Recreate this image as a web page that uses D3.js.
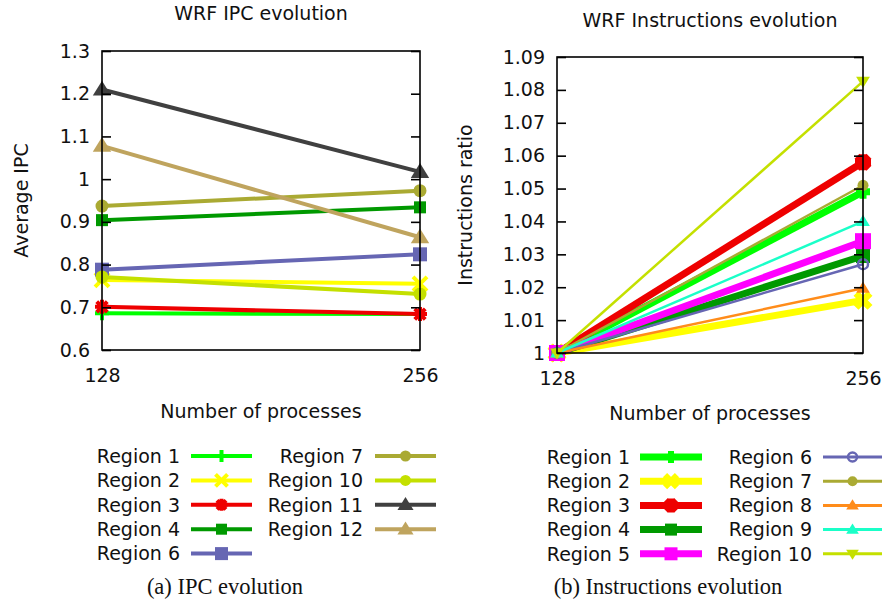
<!DOCTYPE html>
<html>
<head>
<meta charset="utf-8">
<script src="https://cdn.jsdelivr.net/npm/d3@7"></script>
<style>
  body { margin: 0; background: #fff; }
  svg { display: block; }
  text { font-family: "DejaVu Sans", sans-serif; fill: #111; }
  .caption { font-family: "Liberation Serif", "Times New Roman", serif; }
</style>
</head>
<body>
<svg id="chart" width="885" height="600"></svg>
<script>
// ---- data ----
const procs = [128, 256];

// IPC panel
const ipcRegions = ["Region 1", "Region 2", "Region 3", "Region 4", "Region 6",
                    "Region 7", "Region 10", "Region 11", "Region 12"];
const ipcValues = [
  [0.686, 0.684],
  [0.764, 0.755],
  [0.701, 0.684],
  [0.904, 0.934],
  [0.788, 0.824],
  [0.937, 0.973],
  [0.771, 0.731],
  [1.210, 1.017],
  [1.078, 0.864]
];
const ipcColors = ["#00ff00", "#ffff00", "#ee0000", "#009900", "#6666b3",
                   "#aaaa33", "#c4e000", "#404040", "#bfa45e"];
const ipcMarkers = ["plus", "cross", "star", "square", "square",
                    "circle", "circle", "tri", "tri"];
const ipcTicks = [0.6, 0.7, 0.8, 0.9, 1.0, 1.1, 1.2, 1.3];

// Instructions panel
const insRegions = ["Region 1", "Region 2", "Region 3", "Region 4", "Region 5",
                    "Region 6", "Region 7", "Region 8", "Region 9", "Region 10"];
const insValues = [
  [1.0, 1.049],
  [1.0, 1.016],
  [1.0, 1.058],
  [1.0, 1.0295],
  [1.0, 1.034],
  [1.0, 1.027],
  [1.0, 1.051],
  [1.0, 1.0197],
  [1.0, 1.040],
  [1.0, 1.0826]
];
const insColors = ["#00ff00", "#ffff00", "#ee0000", "#009900", "#ff00ff",
                   "#6666b3", "#aaaa33", "#ff8c1a", "#1affc8", "#c4e000"];
const insMarkers = ["plus", "cross", "star", "square", "square",
                    "ocircle", "circle", "tri", "tri", "dtri"];
const insWidths = [7, 7, 7, 7, 7, 2.5, 2.5, 2.5, 2.5, 2.5];
const insTicks = [1.0, 1.01, 1.02, 1.03, 1.04, 1.05, 1.06, 1.07, 1.08, 1.09];

// ---- helpers ----
const svg = d3.select("#chart");
const fmt = d3.format("~g");
const FS = 19;

function marker(g, type, x, y, s, color, sw) {
  const m = g.append("g").attr("transform", `translate(${x},${y})`);
  if (type === "plus") {
    m.append("path").attr("d", `M${-s},0H${s}M0,${-s}V${s}`)
      .attr("stroke", color).attr("stroke-width", sw).attr("fill", "none");
  } else if (type === "cross") {
    m.append("path").attr("d", `M${-s},${-s}L${s},${s}M${-s},${s}L${s},${-s}`)
      .attr("stroke", color).attr("stroke-width", sw).attr("fill", "none");
  } else if (type === "star") {
    m.append("path").attr("d", `M${-s},0H${s}M0,${-s}V${s}M${-s*0.75},${-s*0.75}L${s*0.75},${s*0.75}M${-s*0.75},${s*0.75}L${s*0.75},${-s*0.75}`)
      .attr("stroke", color).attr("stroke-width", sw).attr("fill", "none");
  } else if (type === "square") {
    m.append("rect").attr("x", -s).attr("y", -s).attr("width", 2 * s).attr("height", 2 * s)
      .attr("fill", color);
  } else if (type === "circle") {
    m.append("circle").attr("r", s).attr("fill", color);
  } else if (type === "ocircle") {
    m.append("circle").attr("r", s).attr("fill", "none")
      .attr("stroke", color).attr("stroke-width", 2.5);
  } else if (type === "tri") {
    m.append("path").attr("d", `M0,${-s * 1.1}L${s * 1.15},${s * 0.75}L${-s * 1.15},${s * 0.75}Z`)
      .attr("fill", color);
  } else if (type === "dtri") {
    m.append("path").attr("d", `M0,${s * 1.1}L${s * 1.15},${-s * 0.75}L${-s * 1.15},${-s * 0.75}Z`)
      .attr("fill", color);
  }
}

function panel(opt) {
  const g = svg.append("g");
  const x = d3.scaleLinear().domain([128, 256]).range([opt.x0, opt.x1]);
  const y = d3.scaleLinear().domain(opt.yDomain).range([opt.y1, opt.y0]);

  // series lines and markers
  opt.values.forEach((vals, i) => {
    const pts = procs.map((p, k) => [x(p), y(vals[k])]);
    g.append("path")
      .attr("d", d3.line()(pts))
      .attr("fill", "none")
      .attr("stroke", opt.colors[i])
      .attr("stroke-width", opt.widths[i]);
    pts.forEach(p => marker(g, opt.markers[i], p[0], p[1], opt.msize[i], opt.colors[i], opt.mstroke[i]));
  });

  // frame and mirrored inward ticks
  g.append("rect")
    .attr("x", opt.x0).attr("y", opt.y0)
    .attr("width", opt.x1 - opt.x0).attr("height", opt.y1 - opt.y0)
    .attr("fill", "none").attr("stroke", "#000").attr("stroke-width", 1.6);

  const left = d3.axisLeft(y).tickValues(opt.ticks).tickFormat(fmt).tickSize(-9).tickPadding(12);
  const right = d3.axisRight(y).tickValues(opt.ticks).tickFormat("").tickSize(-9);
  const bottom = d3.axisBottom(x).tickValues(procs).tickFormat(d3.format("d")).tickSize(0).tickPadding(19);

  const ga = g.append("g").attr("transform", `translate(${opt.x0},0)`).call(left);
  const gr = g.append("g").attr("transform", `translate(${opt.x1},0)`).call(right);
  const gb = g.append("g").attr("transform", `translate(0,${opt.y1})`).call(bottom);
  [ga, gr, gb].forEach(a => {
    a.select(".domain").remove();
    a.selectAll("line").attr("stroke", "#000").attr("stroke-width", 1.6);
    a.selectAll("text").attr("font-family", "DejaVu Sans").attr("font-size", FS).attr("fill", "#111");
  });
  gb.selectAll("text").attr("dy", "0.71em");

  // titles
  g.append("text").attr("x", opt.titleX).attr("y", opt.titleY)
    .attr("text-anchor", "middle").attr("font-size", FS).text(opt.title);
  g.append("text").attr("x", (opt.x0 + opt.x1) / 2).attr("y", opt.xlabY)
    .attr("text-anchor", "middle").attr("font-size", FS).text("Number of processes");
  g.append("text")
    .attr("transform", `translate(${opt.ylabX},${(opt.y0 + opt.y1) / 2}) rotate(-90)`)
    .attr("text-anchor", "middle").attr("font-size", FS).text(opt.ylabel);

  // legend
  const lg = svg.append("g");
  opt.regions.forEach((name, i) => {
    const col = i < opt.perCol ? 0 : 1;
    const row = col === 0 ? i : i - opt.perCol;
    const c = opt.legCols[col];
    const cy = opt.legY0 + row * opt.legDy;
    lg.append("text").attr("x", c.textEnd).attr("y", cy).attr("dy", "0.36em")
      .attr("text-anchor", "end").attr("font-size", FS).text(name);
    lg.append("line").attr("x1", c.l0).attr("x2", c.l1).attr("y1", cy).attr("y2", cy)
      .attr("stroke", opt.colors[i]).attr("stroke-width", opt.legWidths[i]);
    marker(lg, opt.markers[i], (c.l0 + c.l1) / 2, cy, opt.legMsize[i], opt.colors[i], opt.legMstroke[i]);
  });

  svg.append("text").attr("class", "caption")
    .attr("x", opt.capX).attr("y", 594).attr("text-anchor", "middle")
    .attr("font-size", 22.5).text(opt.caption);
}

panel({
  x0: 102, x1: 420, y0: 51, y1: 350,
  yDomain: [0.6, 1.3], ticks: ipcTicks,
  values: ipcValues, colors: ipcColors, markers: ipcMarkers, regions: ipcRegions,
  widths: ipcRegions.map(() => 4),
  msize: [7, 7, 7, 6, 7, 6.5, 6.5, 8, 8],
  mstroke: [4, 4, 4, 0, 0, 0, 0, 0, 0],
  title: "WRF IPC evolution", titleX: 261, titleY: 20,
  xlabY: 418, ylabel: "Average IPC", ylabX: 28,
  perCol: 5,
  legCols: [{ textEnd: 180, l0: 191, l1: 252 }, { textEnd: 363, l0: 375, l1: 436 }],
  legY0: 456, legDy: 24.4,
  legWidths: ipcRegions.map(() => 4),
  legMsize: [6, 6, 6, 5.5, 6.5, 5.5, 5.5, 7, 7],
  legMstroke: [4, 4, 4, 0, 0, 0, 0, 0, 0],
  caption: "(a) IPC evolution", capX: 225
});

panel({
  x0: 557, x1: 863, y0: 57, y1: 353,
  yDomain: [1.0, 1.09], ticks: insTicks,
  values: insValues, colors: insColors, markers: insMarkers, regions: insRegions,
  widths: insWidths,
  msize: [7, 7, 8, 7, 8, 5, 5.5, 6, 6, 6],
  mstroke: [7, 7, 7, 0, 0, 0, 0, 0, 0, 0],
  title: "WRF Instructions evolution", titleX: 710, titleY: 27,
  xlabY: 420, ylabel: "Instructions ratio", ylabX: 472,
  perCol: 5,
  legCols: [{ textEnd: 630, l0: 640, l1: 702 }, { textEnd: 812, l0: 823, l1: 882 }],
  legY0: 457, legDy: 24.2,
  legWidths: insWidths.map(w => w === 7 ? 7 : 3),
  legMsize: [6, 6, 7, 6, 6.5, 4.5, 5, 5.5, 5.5, 5.5],
  legMstroke: [6, 6, 6, 0, 0, 0, 0, 0, 0, 0],
  caption: "(b) Instructions evolution", capX: 668
});
</script>
</body>
</html>
